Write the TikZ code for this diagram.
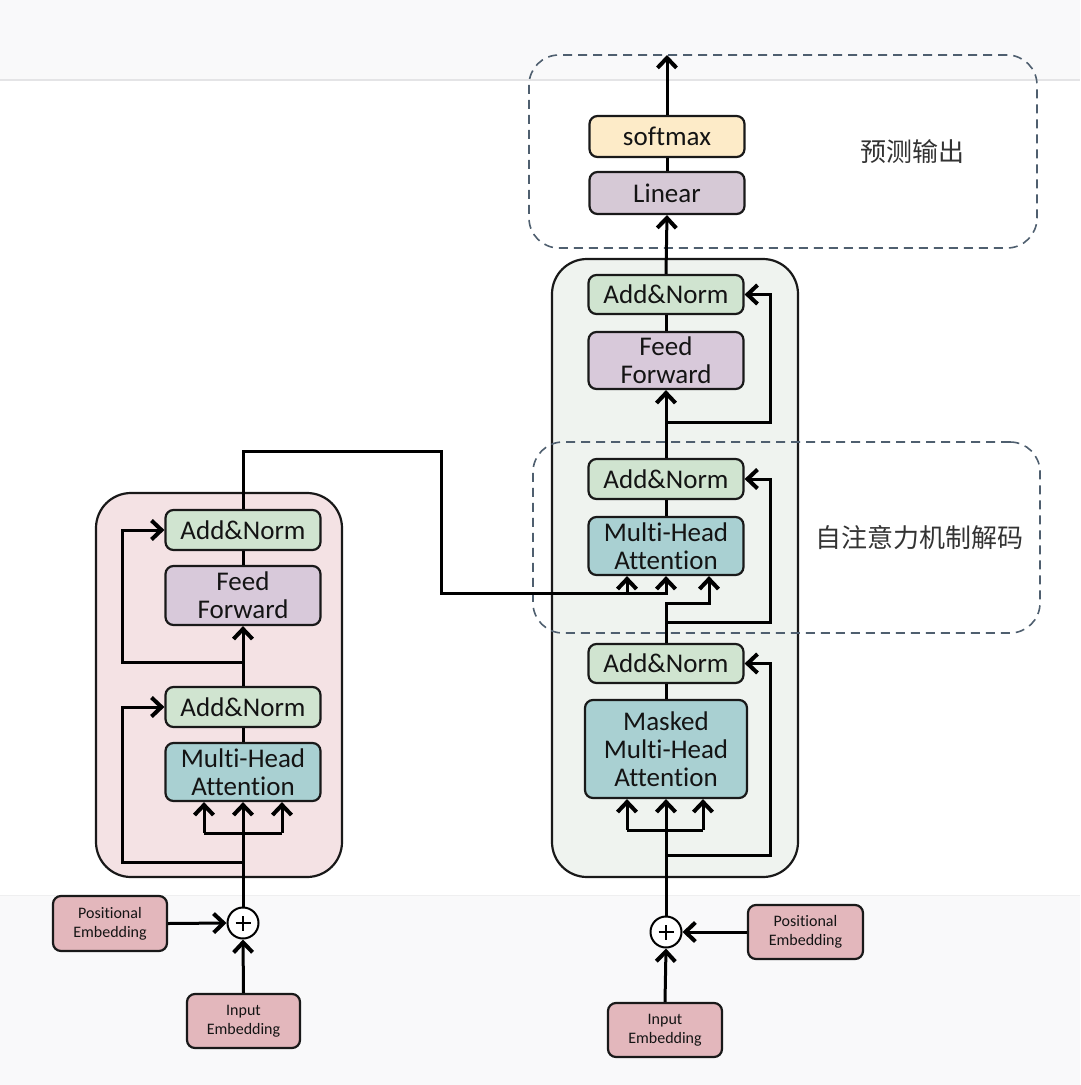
\documentclass[tikz,border=0pt]{standalone}
\usepackage{fontspec}
\setmainfont[Ligatures=NoCommon]{Carlito}
\newfontfamily\cjk{Noto Sans CJK SC}
\usetikzlibrary{arrows.meta}
\definecolor{anc}{HTML}{D0E4D0}
\definecolor{ffc}{HTML}{D8C9DA}
\definecolor{mhac}{HTML}{A9D0D2}
\definecolor{linc}{HTML}{D6C9D6}
\definecolor{softc}{HTML}{FDEBC8}
\definecolor{embc}{HTML}{E3B7BC}
\definecolor{encbg}{HTML}{F4E2E4}
\definecolor{decbg}{HTML}{EFF3EF}
\definecolor{dashc}{HTML}{4F5F6F}
\definecolor{textc}{HTML}{141414}
\definecolor{bandc}{HTML}{F9F9FA}
\definecolor{bandline}{HTML}{E4E4E6}
\begin{document}
\begin{tikzpicture}[x=1pt,y=-1pt,
  blk/.style={draw=black!90, line width=2.2pt, rounded corners=8pt, text=textc,
    font=\fontsize{27}{28}\selectfont, align=center, inner sep=0pt, minimum width=155pt},
  emb/.style={draw=black!90, line width=2.2pt, rounded corners=8pt, text=textc, fill=embc,
    font=\fontsize{16}{19}\selectfont, align=center, inner sep=0pt},
  bigbox/.style={draw=black!90, line width=2.2pt, rounded corners=35pt, inner sep=0pt},
  dbox/.style={draw=dashc, line width=1.6pt, dash pattern=on 9pt off 6pt, rounded corners=30pt, inner sep=0pt},
  plusnode/.style={circle, draw=black, line width=2pt, fill=white, minimum size=31pt, inner sep=0pt},
  cjkl/.style={font=\cjk\fontsize{26}{30}\selectfont, text=black!80},
  wire/.style={line width=3pt, draw=black},
  arr/.style={wire, -{Straight Barb[length=10pt,width=19pt,line width=4pt]}}
]
\useasboundingbox (0,0) rectangle (1080,1085);
% background bands
\fill[bandc] (0,0) rectangle (1080,80);
\draw[bandline, line width=1.5pt] (0,80) -- (1080,80);
\fill[bandc] (0,895) rectangle (1080,1085);
\draw[bandline!60, line width=1pt] (0,895) -- (1080,895);

% big boxes
\node[bigbox, fill=encbg, minimum width=246pt, minimum height=384pt] (enc) at (219,685) {};
\node[bigbox, fill=decbg, minimum width=246pt, minimum height=618pt] (dec) at (675,568) {};

% dashed groups
\node[dbox, minimum width=508pt, minimum height=193pt] (gout) at (783,151.5) {};
\node[dbox, minimum width=507pt, minimum height=191pt] (gatt) at (786.5,537.5) {};
\node[cjkl] (tout) at (912,152) {预测输出};
\node[cjkl] (tatt) at (919,538) {自注意力机制解码};

% encoder nodes
\node[blk, fill=anc, minimum height=40pt] (eAN2) at (243,530) {Add\&Norm};
\node[blk, fill=ffc, minimum height=59pt] (eFF) at (243,595.5) {Feed\\Forward};
\node[blk, fill=anc, minimum height=40pt] (eAN1) at (243,707) {Add\&Norm};
\node[blk, fill=mhac, minimum height=58pt] (eMHA) at (243,772) {Multi-Head\\Attention};
\node[plusnode] (eplus) at (243,923) {};
\node[emb, minimum width=114pt, minimum height=55pt] (ePos) at (110,923.5) {Positional\\Embedding};
\node[emb, minimum width=113pt, minimum height=54pt] (eIn) at (243.5,1021) {Input\\Embedding};

% decoder nodes
\node[blk, fill=anc, minimum height=39pt] (dAN3) at (666,294.5) {Add\&Norm};
\node[blk, fill=ffc, minimum height=57pt] (dFF) at (666,360.5) {Feed\\Forward};
\node[blk, fill=anc, minimum height=40pt] (dAN2) at (666,479) {Add\&Norm};
\node[blk, fill=mhac, minimum height=58pt] (dMHA) at (666,546) {Multi-Head\\Attention};
\node[blk, fill=anc, minimum height=39pt] (dAN1) at (666,663.5) {Add\&Norm};
\node[blk, fill=mhac, minimum width=162pt, minimum height=98pt] (dMMHA) at (666,749) {Masked\\Multi-Head\\Attention};
\node[plusnode] (dplus) at (666,932) {};
\node[emb, minimum width=115pt, minimum height=54pt] (dPos) at (805.5,932) {Positional\\Embedding};
\node[emb, minimum width=114pt, minimum height=54pt] (dIn) at (665,1030) {Input\\Embedding};

% output nodes
\node[blk, fill=linc, minimum height=42pt] (lin) at (667,193) {Linear};
\node[blk, fill=softc, minimum height=41pt] (soft) at (667,136.5) {softmax};
\coordinate (out) at (667,55);

% plus signs
\foreach \p in {eplus,dplus}{
  \draw[line width=2pt] ([xshift=-7.5pt]\p.center) -- ([xshift=7.5pt]\p.center);
  \draw[line width=2pt] ([yshift=-7.5pt]\p.center) -- ([yshift=7.5pt]\p.center);
}

% ---------- encoder wiring ----------
\draw[arr] (ePos.east) -- (eplus.west);
\draw[arr] (eIn.north) -- (eplus.south);
\draw[arr] (eplus.north) -- (eMHA.south);
\coordinate (ebl) at (204,833);
\coordinate (ebr) at (282,833);
\draw[wire] (ebl) -- (ebr);
\draw[arr] (ebl) -- (ebl |- eMHA.south);
\draw[arr] (ebr) -- (ebr |- eMHA.south);
\coordinate (ex) at (122,0);
\coordinate (er1) at (243,862);
\coordinate (er2) at (243,662);
\draw[arr] (er1) -- (er1 -| ex) |- (eAN1.west);
\draw[arr] (er2) -- (er2 -| ex) |- (eAN2.west);
\draw[wire] (eMHA.north) -- (eAN1.south);
\draw[arr] (eAN1.north) -- (eFF.south);
\draw[wire] (eFF.north) -- (eAN2.south);

% encoder -> decoder
\coordinate (k1) at (441,451);
\coordinate (k2) at (441,593);
\coordinate (k3) at (666,593);
\coordinate (k4) at (627,593);
\draw[arr] (eAN2.north) |- (k1) -- (k2) -- (k3) -- (k3 |- dMHA.south);
\draw[arr] (k4) -- (k4 |- dMHA.south);

% ---------- decoder wiring ----------
\draw[arr] (dPos.west) -- (dplus.east);
\draw[arr] (dIn.north) -- (dplus.south);
\draw[arr] (dplus.north) -- (dMMHA.south);
\coordinate (dbl) at (627,830);
\coordinate (dbr) at (703,830);
\draw[wire] (dbl) -- (dbr);
\draw[arr] (dbl) -- (dbl |- dMMHA.south);
\draw[arr] (dbr) -- (dbr |- dMMHA.south);
\coordinate (dx) at (770,0);
\coordinate (dr1) at (666,855);
\coordinate (dr2) at (666,622);
\coordinate (dr3) at (666,422);
\draw[arr] (dr1) -- (dr1 -| dx) |- (dAN1.east);
\draw[wire] (dMMHA.north) -- (dAN1.south);
\coordinate (j1) at (709,603);
\draw[arr] (dAN1.north) |- (j1) -- (j1 |- dMHA.south);
\draw[arr] (dr2) -- (dr2 -| dx) |- (dAN2.east);
\draw[wire] (dMHA.north) -- (dAN2.south);
\draw[arr] (dAN2.north) -- (dFF.south);
\draw[arr] (dr3) -- (dr3 -| dx) |- (dAN3.east);
\draw[wire] (dFF.north) -- (dAN3.south);
\draw[arr] (dAN3.north) -- (lin.south);
\draw[wire] (lin.north) -- (soft.south);
\draw[arr] (soft.north) -- (out);
\end{tikzpicture}
\end{document}
